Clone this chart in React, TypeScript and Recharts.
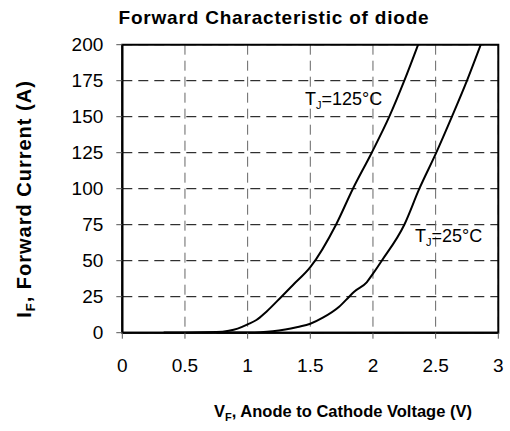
import React from "react";
import {
  LineChart,
  Line,
  XAxis,
  YAxis,
  CartesianGrid,
  ReferenceArea,
  Customized,
} from "recharts";

const xTicks = [0, 0.5, 1, 1.5, 2, 2.5, 3];
const yTicks = [0, 25, 50, 75, 100, 125, 150, 175, 200];

const v125 = [0.33, 0.5, 0.75, 0.85, 0.92, 1.0, 1.07, 1.15, 1.27, 1.36, 1.5, 1.705, 1.84, 1.99, 2.13, 2.25, 2.36];
const i125 = [0.1, 0.2, 0.4, 1.3, 2.8, 5.8, 8.8, 14.6, 25, 33, 45.5, 75, 100, 125, 150, 175, 200];

const v25 = [0.75, 1.0, 1.1, 1.2, 1.3, 1.4, 1.5, 1.6, 1.73, 1.81, 1.85, 1.95, 2.0, 2.07, 2.25, 2.37, 2.505, 2.63, 2.75, 2.86];
const i25 = [0.1, 0.2, 0.4, 1.0, 2.2, 4.0, 6.2, 10.4, 18, 25, 28.5, 35, 41, 50, 75, 100, 125, 150, 175, 200];

const d125 = v125.map((v, k) => ({ v, i: i125[k] }));
const d25 = v25.map((v, k) => ({ v, i: i25[k] }));

const FONT = '"Liberation Sans", Arial, Helvetica, sans-serif';

const Texts = () => (
  <g fontFamily={FONT} fill="#000">
    <text x={274} y={24} textAnchor="middle" fontSize={19} fontWeight="bold" letterSpacing={0.8}>
      Forward Characteristic of diode
    </text>
    <text
      x={31}
      y={199}
      textAnchor="middle"
      fontSize={20}
      fontWeight="bold"
      letterSpacing={1}
      transform="rotate(-90 31 199)"
    >
      I<tspan fontSize={13} dy={4}>F</tspan>
      <tspan dy={-4}>, Forward Current (A)</tspan>
    </text>
    <text x={343} y={416.7} textAnchor="middle" fontSize={16.5} fontWeight="bold">
      V<tspan fontSize={11} dy={4}>F</tspan>
      <tspan dy={-4}>, Anode to Cathode Voltage (V)</tspan>
    </text>
    <text x={305} y={104.5} fontSize={18}>
      T<tspan fontSize={11} dy={4}>J</tspan>
      <tspan dy={-4}>=125°C</tspan>
    </text>
    <text x={415} y={241.7} fontSize={18}>
      T<tspan fontSize={11} dy={4}>J</tspan>
      <tspan dy={-4}>=25°C</tspan>
    </text>
  </g>
);

export default function App() {
  return (
    <div style={{ position: "absolute", left: 0, top: 0, width: 510, height: 431, background: "#fff" }}>
      <LineChart
        width={510}
        height={431}
        margin={{ top: 44.7, right: 11.7, bottom: 0, left: 0 }}
      >
        <CartesianGrid horizontal={true} vertical={false} stroke="#000" strokeDasharray="10 6" />
        <CartesianGrid horizontal={false} vertical={true} stroke="#666" strokeDasharray="10 6" />
        <XAxis
          type="number"
          dataKey="v"
          domain={[0, 3]}
          ticks={xTicks}
          height={98.3}
          tickSize={6}
          tickMargin={20}
          axisLine={{ stroke: "#000", strokeWidth: 2 }}
          tickLine={{ stroke: "#555" }}
          tick={{ fontSize: 19, fill: "#000", fontFamily: FONT }}
          tickFormatter={(t: number) => String(t)}
        />
        <YAxis
          type="number"
          domain={[0, 200]}
          ticks={yTicks}
          width={122.3}
          tickSize={6}
          tickMargin={13}
          axisLine={{ stroke: "#000", strokeWidth: 2 }}
          tickLine={{ stroke: "#555" }}
          tick={{ fontSize: 19, fill: "#000", fontFamily: FONT }}
        />
        <ReferenceArea x1={0} x2={3} y1={0} y2={200} fill="none" stroke="#000" strokeWidth={2} />
        <Line
          data={d125}
          dataKey="i"
          type="monotone"
          stroke="#000"
          strokeWidth={2}
          dot={false}
          isAnimationActive={false}
        />
        <Line
          data={d25}
          dataKey="i"
          type="monotone"
          stroke="#000"
          strokeWidth={2}
          dot={false}
          isAnimationActive={false}
        />
        <Customized component={Texts} />
      </LineChart>
    </div>
  );
}
